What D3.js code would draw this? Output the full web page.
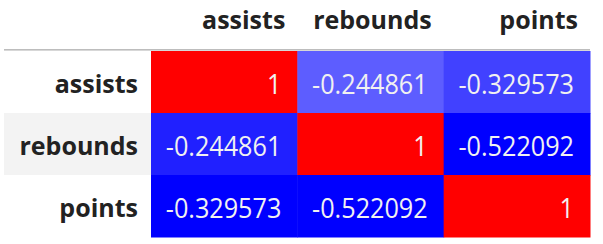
<!DOCTYPE html>
<html><head><meta charset="utf-8">
<script src="https://cdn.jsdelivr.net/npm/d3@7"></script>
<style>html,body{margin:0;padding:0;background:#fff;} svg{display:block;}</style>
</head><body>
<svg id="c" width="603" height="244"></svg>
<script>
const columns = ["assists", "rebounds", "points"];
const rowLabels = ["assists", "rebounds", "points"];
const assists = [1, -0.244861, -0.329573];
const rebounds = [-0.244861, 1, -0.522092];
const points = [-0.329573, -0.522092, 1];
const series = [assists, rebounds, points];

const svg = d3.select("#c");
const FONT = "'Open Sans', 'Noto Sans', sans-serif";
const x = d3.scaleBand().domain(columns).range([151, 590]);
const y = d3.scaleBand().domain(rowLabels).range([51, 237]);

// header border
svg.append("rect").attr("x", 4).attr("y", 49).attr("width", 586).attr("height", 1.6).attr("fill", "#bdbdbd");

// index striping
svg.selectAll("rect.stripe").data(rowLabels.filter((d,i)=>i%2===1)).join("rect")
  .attr("x", 4).attr("y", d => y(d)).attr("width", 147).attr("height", y.bandwidth()).attr("fill", "#f3f3f3");

// column-wise bwr gradient
columns.forEach((col, ci) => {
  const vals = series[ci];
  const mn = d3.min(vals), mx = d3.max(vals);
  const color = d3.scaleLinear().domain([mn, (mn+mx)/2, mx]).range(["#0000ff", "#ffffff", "#ff0000"]);
  const g = svg.append("g");
  g.selectAll("rect").data(vals).join("rect")
    .attr("x", x(col)).attr("y", (d,i) => y(rowLabels[i]))
    .attr("width", x.bandwidth() + 0.5).attr("height", y.bandwidth() + 0.5)
    .attr("fill", d => color(d));
  g.selectAll("text").data(vals).join("text")
    .attr("transform", (d,i) => `translate(${x(col) + x.bandwidth() - 16},${y(rowLabels[i]) + y.bandwidth()/2 + 11.7}) scale(0.9,1)`)
    .attr("text-anchor", "end").attr("font-family", FONT).attr("font-size", 28)
    .attr("fill", "#f1f1f1").text(d => String(d));
});

// headers
svg.selectAll("text.h").data(columns).join("text").attr("class","h")
  .attr("x", d => x(d) + x.bandwidth() - 12).attr("y", 28.5)
  .attr("text-anchor", "end").attr("font-family", FONT).attr("font-weight", "bold").attr("font-size", 25)
  .attr("fill", "#222").text(d => d);

// row labels
svg.selectAll("text.r").data(rowLabels).join("text").attr("class","r")
  .attr("x", 138).attr("y", d => y(d) + y.bandwidth()/2 + 10.5)
  .attr("text-anchor", "end").attr("font-family", FONT).attr("font-weight", "bold").attr("font-size", 25)
  .attr("fill", "#222").text(d => d);
</script>
</body></html>
